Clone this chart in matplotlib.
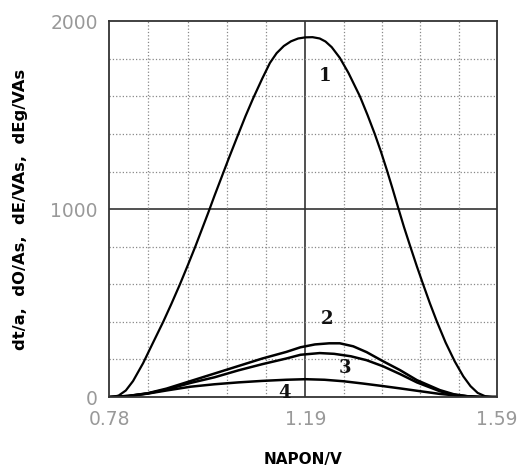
import numpy as np
from matplotlib import pyplot as plt

# curve 1
x1 = [0.78, 0.79, 0.80, 0.815, 0.83, 0.851, 0.87, 0.893, 0.91, 0.928, 0.945, 0.96, 0.975,
      0.987, 1.0, 1.015, 1.03, 1.047, 1.065, 1.081, 1.10, 1.116, 1.13, 1.145, 1.16, 1.175,
      1.19, 1.205, 1.22, 1.232, 1.245, 1.262, 1.28, 1.304, 1.32, 1.335, 1.348, 1.36, 1.372,
      1.383, 1.396, 1.41, 1.423, 1.436, 1.45, 1.465, 1.483, 1.502, 1.52, 1.535, 1.55,
      1.565, 1.58, 1.59]
y1 = [0, 2, 8, 35, 85, 180, 280, 400, 495, 600, 705, 800, 900,
      980, 1070, 1170, 1270, 1380, 1495, 1590, 1695, 1778, 1830, 1868, 1893, 1908,
      1914, 1915, 1908, 1892, 1862, 1805, 1725, 1600, 1500, 1400, 1305, 1210, 1110,
      1015, 905, 795, 695, 600, 500, 400, 290, 190, 110, 58, 22,
      5, 0, 0]

# curve 2
x2 = [0.78, 0.82, 0.86, 0.90, 0.95, 1.00, 1.05, 1.10, 1.15, 1.18, 1.21, 1.24, 1.262,
      1.29, 1.318, 1.352, 1.388, 1.423, 1.471, 1.50, 1.53, 1.56, 1.59]
y2 = [0, 6, 20, 45, 85, 125, 165, 205, 240, 265, 280, 286, 286,
      270, 239, 191, 143, 90, 37, 15, 4, 0, 0]

# curve 3
x3 = [0.78, 0.82, 0.86, 0.90, 0.95, 1.00, 1.05, 1.10, 1.15, 1.18, 1.22, 1.25, 1.285,
      1.318, 1.352, 1.388, 1.423, 1.471, 1.50, 1.53, 1.56, 1.59]
y3 = [0, 6, 19, 40, 75, 105, 142, 175, 205, 225, 234, 230, 217,
      196, 164, 122, 78, 31, 12, 3, 0, 0]

# curve 4
x4 = [0.78, 0.82, 0.86, 0.90, 0.95, 1.00, 1.05, 1.10, 1.15, 1.19, 1.23, 1.27, 1.31,
      1.35, 1.388, 1.43, 1.47, 1.51, 1.55, 1.59]
y4 = [0, 5, 18, 35, 55, 68, 78, 86, 92, 95, 92, 84, 72, 59, 46, 31, 17, 7, 1, 0]

curve_labels = ['1', '2', '3', '4']
label_xy = [(1.231, 1708), (1.236, 415), (1.273, 154), (1.147, 24)]

x_ticks = [0.78, 1.19, 1.59]
x_ticklabels = ['0.78', '1.19', '1.59']
y_ticks = [0, 1000, 2000]

fig = plt.figure(figsize=(5.17, 4.71), dpi=100)
ax = fig.add_axes([0.211, 0.157, 0.75, 0.798])

ax.plot(x1, y1, color='black', lw=1.6)
ax.plot(x2, y2, color='black', lw=1.8)
ax.plot(x3, y3, color='black', lw=1.8)
ax.plot(x4, y4, color='black', lw=1.8)

for lab, (lx, ly) in zip(curve_labels, label_xy):
    ax.text(lx, ly, lab, fontsize=13, fontweight='bold', family='DejaVu Serif',
            ha='center', va='center', color='#111111')

ax.set_xlim(0.78, 1.59)
ax.set_ylim(0, 2000)
ax.set_xticks(x_ticks)
ax.set_xticklabels(x_ticklabels)
ax.set_yticks(y_ticks)
ax.set_xticks(list(np.linspace(0.78, 1.19, 6)[1:-1]) + list(np.linspace(1.19, 1.59, 6)[1:-1]), minor=True)
ax.set_yticks([200, 400, 600, 800, 1200, 1400, 1600, 1800], minor=True)

ax.grid(which='minor', linestyle=':', color='#888888', lw=0.9)
ax.axvline(1.19, color='#333333', lw=1.2, zorder=1)
ax.axhline(1000, color='#333333', lw=1.2, zorder=1)

ax.tick_params(axis='both', which='major', length=0, labelsize=13.5, labelcolor='#999999')
ax.tick_params(axis='x', which='major', pad=9)
ax.tick_params(axis='y', which='major', pad=8)
ax.tick_params(axis='both', which='minor', length=0)
for s in ax.spines.values():
    s.set_color('#333333')
    s.set_linewidth(1.3)

ax.set_ylabel('dt/a,  dO/As,  dE/VAs,  dEg/VAs', fontsize=11.8, fontweight='bold', labelpad=16)
ax.set_xlabel('NAPON/V', fontsize=11, fontweight='bold', labelpad=17)

plt.savefig('out.png', dpi=100)
